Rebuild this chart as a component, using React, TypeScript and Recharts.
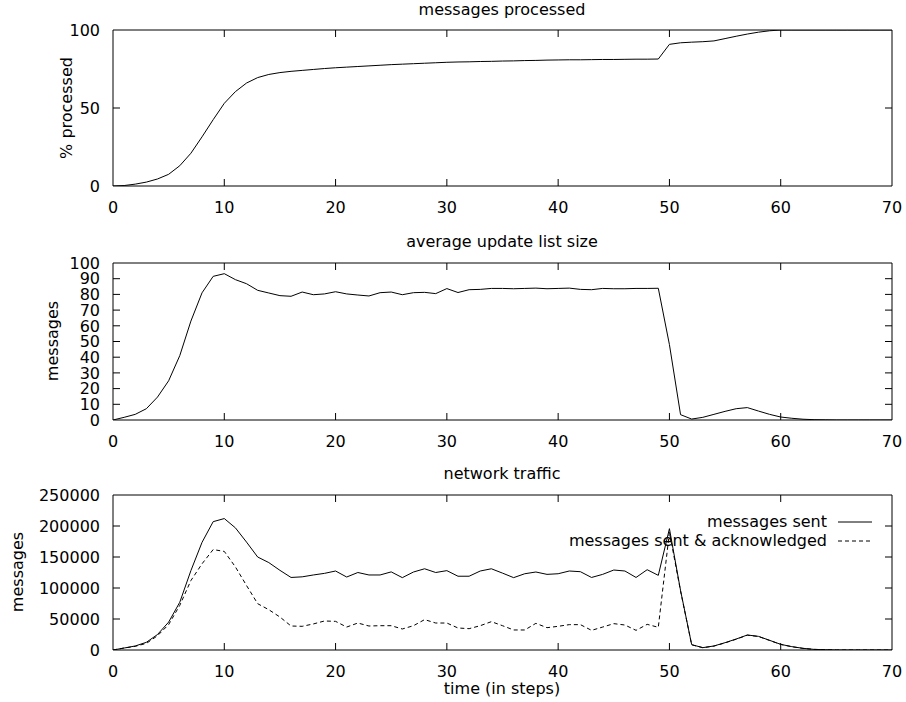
import { Legend, Line, LineChart, ReferenceLine, XAxis, YAxis } from "recharts";

// time steps (x) 0..70
const steps = [
  0, 1, 2, 3, 4, 5, 6, 7, 8, 9, 10, 11, 12, 13, 14, 15, 16, 17, 18, 19, 20, 21, 22, 23, 24, 25, 26, 27, 28, 29, 30, 31, 32, 33, 34,
  35, 36, 37, 38, 39, 40, 41, 42, 43, 44, 45, 46, 47, 48, 49, 50, 51, 52, 53, 54, 55, 56, 57, 58, 59, 60, 61, 62, 63, 64, 65, 66, 67,
  68, 69, 70,
];

// % processed
const processed = [
  0, 0.3, 1.2, 2.5, 4.5, 7.5, 13, 21, 31.5, 42.5, 53, 60.5, 66, 69.5, 71.5, 72.7, 73.5, 74.1, 74.7, 75.3, 75.8, 76.2, 76.6, 77, 77.4,
  77.8, 78.1, 78.4, 78.7, 79, 79.3, 79.5, 79.6, 79.8, 79.9, 80.1, 80.2, 80.4, 80.5, 80.7, 80.8, 80.9, 80.9, 81, 81.1, 81.1, 81.2, 81.3,
  81.3, 81.4, 90.8, 91.8, 92.2, 92.5, 93, 94.5, 96, 97.4, 98.6, 99.5, 100, 100, 100, 100, 100, 100, 100, 100, 100, 100, 100,
];

// average update list size
const listSize = [
  0, 1.7, 3.6, 7.2, 14.6, 25, 41, 63, 81, 91.5, 93.2, 89.4, 86.8, 82.6, 80.9, 79.2, 78.8, 81.5, 79.8, 80.3, 81.7, 80.3, 79.6, 79, 81.1,
  81.5, 79.8, 81.1, 81.3, 80.5, 83.7, 81.2, 83, 83.2, 83.8, 83.8, 83.6, 83.8, 84, 83.6, 83.8, 84, 83.2, 83, 83.8, 83.6, 83.6, 83.8,
  83.8, 83.9, 48, 3.4, 0.6, 1.7, 3.6, 5.5, 7.2, 7.9, 5.7, 3.6, 1.9, 1.1, 0.5, 0.2, 0.1, 0, 0, 0, 0, 0, 0,
];

// network traffic
const sent = [
  0, 3200, 6500, 12400, 25000, 45000, 77000, 128000, 173600, 207000, 212000, 197000, 174000, 150000, 141000, 128500, 117000, 118000,
  121000, 123600, 127400, 117700, 125000, 121000, 121000, 126000, 116700, 125800, 131000, 125000, 128000, 119000, 119000, 127400,
  131000, 124000, 116700, 123000, 125800, 122000, 123000, 127400, 126300, 117000, 122000, 129000, 127400, 117000, 129500, 120400,
  195700, 96000, 8600, 3800, 6500, 11800, 17700, 24200, 22000, 15600, 9100, 5400, 2700, 1000, 500, 0, 0, 0, 0, 0, 0,
];
const acked = [
  0, 3200, 5900, 10700, 23000, 41000, 72000, 112000, 139000, 162000, 159000, 134000, 104000, 74700, 65000, 53200, 38700, 38200,
  42000, 46800, 46200, 37000, 43500, 38700, 39200, 39200, 33900, 39200, 49000, 43500, 43500, 35500, 34400, 39200, 45700, 39200,
  32300, 32300, 43000, 36000, 38200, 40900, 40900, 31700, 37000, 42500, 40300, 31700, 41400, 36600, 190000, 95000, 8400, 3700,
  6300, 11500, 17400, 23900, 21800, 15400, 9000, 5300, 2600, 1000, 500, 0, 0, 0, 0, 0, 0,
];

const xTicks = [0, 10, 20, 30, 40, 50, 60, 70];
const processedTicks = [0, 50, 100];
const listTicks = [0, 10, 20, 30, 40, 50, 60, 70, 80, 90, 100];
const trafficTicks = [0, 50000, 100000, 150000, 200000, 250000];

const FONT = "'DejaVu Sans', sans-serif";
const ink = { stroke: "#000", strokeWidth: 1 };
const textProps = { fill: "#000", fontSize: 16, fontFamily: FONT };
const PLOT_W = 779; // 906 - 113 left - 14 right
const TICK_PX = 7;

const rows1 = steps.map((t, i) => ({ t, v: processed[i] }));
const rows2 = steps.map((t, i) => ({ t, v: listSize[i] }));
const rows3 = steps.map((t, i) => ({ t, sent: sent[i], acked: acked[i] }));

function XTick({ x, y, payload }: any) {
  return (
    <text x={x} y={y + 27.4} textAnchor="middle" {...textProps}>
      {payload.value}
    </text>
  );
}

function YTick({ x, y, payload }: any) {
  return (
    <text x={x - 13} y={y + 5.7} textAnchor="end" {...textProps}>
      {payload.value}
    </text>
  );
}

// gnuplot-like frame: labels outside, short tick marks pointing into the plot on all four sides
function frameAxes(yMax: number, yTicks: number[], plotH: number) {
  const dy = (yMax * TICK_PX) / plotH;
  const dx = (70 * TICK_PX) / PLOT_W;
  const marks: any[] = [];
  xTicks.slice(1, -1).forEach((t) => {
    marks.push(<ReferenceLine key={`xb${t}`} xAxisId="x" yAxisId="y" {...ink} segment={[{ x: t, y: 0 }, { x: t, y: dy }]} />);
    marks.push(<ReferenceLine key={`xt${t}`} xAxisId="x" yAxisId="y" {...ink} segment={[{ x: t, y: yMax }, { x: t, y: yMax - dy }]} />);
  });
  yTicks.slice(1, -1).forEach((v) => {
    marks.push(<ReferenceLine key={`yl${v}`} xAxisId="x" yAxisId="y" {...ink} segment={[{ x: 0, y: v }, { x: dx, y: v }]} />);
    marks.push(<ReferenceLine key={`yr${v}`} xAxisId="x" yAxisId="y" {...ink} segment={[{ x: 70, y: v }, { x: 70 - dx, y: v }]} />);
  });
  return [
    <XAxis key="x" xAxisId="x" dataKey="t" type="number" domain={[0, 70]} ticks={xTicks} interval={0} allowDataOverflow
      axisLine={ink} tickLine={false} tickSize={0} tickMargin={0} height={30} tick={(p: any) => <XTick {...p} />} />,
    <YAxis key="y" yAxisId="y" type="number" domain={[0, yMax]} ticks={yTicks} interval={0} allowDataOverflow
      axisLine={ink} tickLine={false} tickSize={0} tickMargin={0} width={113} tick={(p: any) => <YTick {...p} />} />,
    <ReferenceLine key="top" xAxisId="x" yAxisId="y" y={yMax} {...ink} ifOverflow="visible" />,
    <ReferenceLine key="right" xAxisId="x" yAxisId="y" x={70} {...ink} ifOverflow="visible" />,
    ...marks,
  ];
}

function Title({ text, y }: { text: string; y: number }) {
  return (
    <text x={502} y={y} textAnchor="middle" {...textProps}>
      {text}
    </text>
  );
}

function YTitle({ text, x, y }: { text: string; x: number; y: number }) {
  return (
    <text x={x} y={y} textAnchor="middle" transform={`rotate(-90, ${x}, ${y})`} {...textProps}>
      {text}
    </text>
  );
}

function TrafficLegend({ payload }: any) {
  return (
    <div style={{ fontFamily: FONT, fontSize: 16, lineHeight: "19px", color: "#000" }}>
      {(payload || []).map((entry: any) => (
        <div key={entry.value} style={{ display: "flex", justifyContent: "flex-end", alignItems: "center", paddingRight: 34, height: 19 }}>
          <span>{entry.value}</span>
          <svg width={34} height={19} style={{ marginLeft: 11 }}>
            <line x1={0} x2={34} y1={10} y2={10} stroke="#000" strokeWidth={1}
              strokeDasharray={entry.payload?.strokeDasharray} />
          </svg>
        </div>
      ))}
    </div>
  );
}

export default function App() {
  return (
    <div style={{ position: "absolute", left: 0, top: 0, width: 906, height: 702, background: "#fff" }}>
      <div style={{ position: "absolute", left: 0, top: 0 }}>
        <LineChart width={906} height={232} data={rows1} margin={{ top: 30, right: 14, bottom: 16, left: 0 }}>
          {frameAxes(100, processedTicks, 156)}
          <Line xAxisId="x" yAxisId="y" type="linear" dataKey="v" {...ink} dot={false} isAnimationActive={false} />
          <Title text="messages processed" y={15} />
          <YTitle text="% processed" x={72} y={108} />
        </LineChart>
      </div>

      <div style={{ position: "absolute", left: 0, top: 232 }}>
        <LineChart width={906} height={232} data={rows2} margin={{ top: 31, right: 14, bottom: 14, left: 0 }}>
          {frameAxes(100, listTicks, 157)}
          <Line xAxisId="x" yAxisId="y" type="linear" dataKey="v" {...ink} dot={false} isAnimationActive={false} />
          <Title text="average update list size" y={15} />
          <YTitle text="messages" x={58} y={109} />
        </LineChart>
      </div>

      <div style={{ position: "absolute", left: 0, top: 464 }}>
        <LineChart width={906} height={238} data={rows3} margin={{ top: 31, right: 14, bottom: 22, left: 0 }}>
          {frameAxes(250000, trafficTicks, 155)}
          <Line xAxisId="x" yAxisId="y" type="linear" dataKey="sent" name="messages sent" {...ink}
            dot={false} isAnimationActive={false} />
          <Line xAxisId="x" yAxisId="y" type="linear" dataKey="acked" name="messages sent & acknowledged" {...ink}
            strokeDasharray="4 3" dot={false} isAnimationActive={false} />
          <Legend layout="vertical" align="center" verticalAlign="middle" content={<TrafficLegend />}
            wrapperStyle={{ position: "absolute", top: 48, left: 0, width: 906 }} />
          <Title text="network traffic" y={15} />
          <YTitle text="messages" x={23} y={108} />
          <text x={502} y={230} textAnchor="middle" {...textProps}>
            time (in steps)
          </text>
        </LineChart>
      </div>
    </div>
  );
}
